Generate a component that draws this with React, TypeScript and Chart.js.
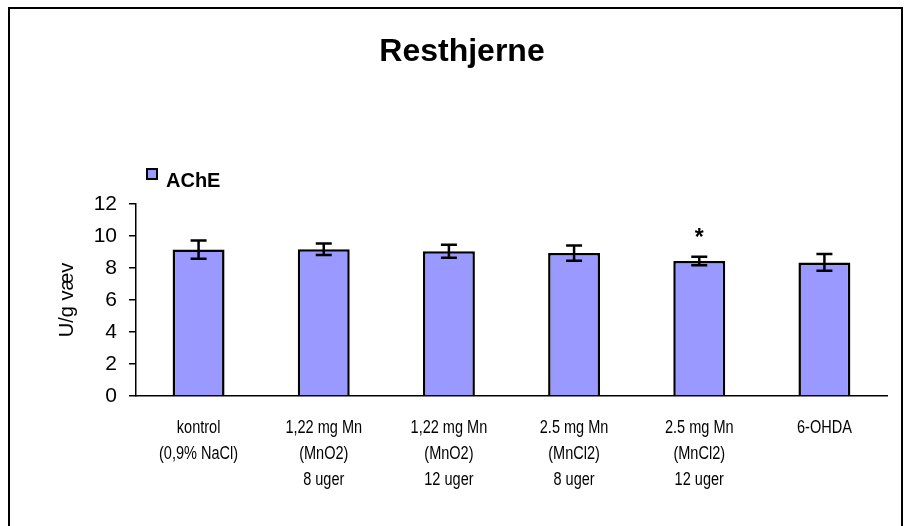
import React, { useEffect, useRef } from "react";
import { Chart, registerables } from "chart.js";

Chart.register(...registerables);

const chartTitle = "Resthjerne";
const seriesName = "AChE";
const yAxisTitle = "U/g væv";
const categories: string[][] = [
  ["kontrol", "(0,9% NaCl)"],
  ["1,22 mg Mn", "(MnO2)", "8 uger"],
  ["1,22 mg Mn", "(MnO2)", "12 uger"],
  ["2.5 mg Mn", "(MnCl2)", "8 uger"],
  ["2.5 mg Mn", "(MnCl2)", "12 uger"],
  ["6-OHDA"],
];
const achValues = [9.15, 9.17, 9.05, 8.93, 8.44, 8.35];
const achErrors = [0.57, 0.36, 0.41, 0.48, 0.27, 0.52];
const significance = ["", "", "", "", "*", ""];
const yTicks = [0, 2, 4, 6, 8, 10, 12];

const BAR_FILL = "#9999FF";

const decorPlugin = {
  id: "decor",
  beforeDraw(chart: any) {
    const ctx = chart.ctx;
    ctx.save();
    ctx.fillStyle = "#ffffff";
    ctx.fillRect(0, 0, chart.width, chart.height);
    ctx.restore();
  },
  afterDatasetsDraw(chart: any) {
    const ctx = chart.ctx;
    const meta = chart.getDatasetMeta(0);
    const y = chart.scales.y;
    ctx.save();
    ctx.strokeStyle = "#000000";
    ctx.lineWidth = 2.5;
    meta.data.forEach((bar: any, i: number) => {
      const x = bar.x;
      const top = y.getPixelForValue(achValues[i] + achErrors[i]);
      const bot = y.getPixelForValue(achValues[i] - achErrors[i]);
      ctx.beginPath();
      ctx.moveTo(x, top);
      ctx.lineTo(x, bot);
      ctx.moveTo(x - 8, top);
      ctx.lineTo(x + 8, top);
      ctx.moveTo(x - 8, bot);
      ctx.lineTo(x + 8, bot);
      ctx.stroke();
      if (significance[i]) {
        ctx.fillStyle = "#000000";
        ctx.font = "bold 23px 'Liberation Sans', Arial, sans-serif";
        ctx.textAlign = "center";
        ctx.textBaseline = "alphabetic";
        ctx.fillText(significance[i], x, top - 12);
      }
    });
    ctx.restore();
  },
  afterDraw(chart: any) {
    const ctx = chart.ctx;
    const xs = chart.scales.x;
    ctx.save();
    // category labels (condensed, like the original narrow face)
    ctx.fillStyle = "#000000";
    ctx.font = "17.5px 'Liberation Sans', Arial, sans-serif";
    ctx.textAlign = "center";
    ctx.textBaseline = "middle";
    const labels = chart.data.labels as string[][];
    labels.forEach((lines, i) => {
      const cx = xs.getPixelForTick(i);
      lines.forEach((line, j) => {
        ctx.save();
        ctx.translate(cx, xs.top + 32 + j * 26);
        ctx.scale(0.83, 1);
        ctx.fillText(line, 0, 0);
        ctx.restore();
      });
    });
    // frame
    ctx.strokeStyle = "#000000";
    ctx.lineWidth = 2;
    ctx.strokeRect(9, 8, 893, 540);
    // title
    ctx.font = "bold 32px 'Liberation Sans', Arial, sans-serif";
    ctx.textAlign = "center";
    ctx.textBaseline = "alphabetic";
    ctx.fillText(chartTitle, 462, 61);
    // legend
    ctx.fillStyle = BAR_FILL;
    ctx.fillRect(147, 169, 10, 10);
    ctx.lineWidth = 2;
    ctx.strokeRect(147, 169, 10, 10);
    ctx.fillStyle = "#000000";
    ctx.font = "bold 20px 'Liberation Sans', Arial, sans-serif";
    ctx.textAlign = "left";
    ctx.fillText(seriesName, 166, 187);
    ctx.restore();
  },
};

export default function App() {
  const ref = useRef<HTMLCanvasElement | null>(null);
  useEffect(() => {
    if (!ref.current) return;
    const chart = new Chart(ref.current, {
      type: "bar",
      data: {
        labels: categories,
        datasets: [
          {
            label: seriesName,
            data: achValues,
            backgroundColor: BAR_FILL,
            borderColor: "#000000",
            borderWidth: 2.5,
            barPercentage: 0.415,
            categoryPercentage: 1,
          },
        ],
      },
      options: {
        animation: false,
        responsive: true,
        maintainAspectRatio: false,
        layout: { padding: { left: 0, top: 204, right: 26, bottom: 0 } },
        plugins: {
          legend: { display: false },
          title: { display: false },
          tooltip: { enabled: false },
        },
        scales: {
          x: {
            grid: { display: true, drawOnChartArea: false, drawTicks: false, tickLength: 0, color: "rgba(0,0,0,0)" },
            border: { display: true, color: "#000000", width: 1.5 },
            ticks: { display: false, autoSkip: false, maxRotation: 0, minRotation: 0 },
            afterFit: (s: any) => {
              s.height = 130;
            },
          },
          y: {
            min: 0,
            max: 12,
            afterBuildTicks: (s: any) => {
              s.ticks = yTicks.map((v) => ({ value: v }));
            },
            grid: { display: true, drawOnChartArea: false, drawTicks: true, tickLength: 7, color: "#000000", lineWidth: 1.5 },
            border: { display: true, color: "#000000", width: 1.5 },
            ticks: {
              color: "#000000",
              padding: 12,
              font: { family: "'Liberation Sans', Arial, sans-serif", size: 21 },
            },
            title: {
              display: true,
              text: yAxisTitle,
              color: "#000000",
              font: { family: "'Liberation Sans', Arial, sans-serif", size: 20 },
              padding: { top: 55, bottom: 0 },
            },
            afterFit: (s: any) => {
              s.width = 136;
            },
          },
        },
      },
      plugins: [decorPlugin],
    });
    return () => chart.destroy();
  }, []);
  return (
    <div style={{ position: "fixed", left: 0, top: 0, width: 913, height: 526 }}>
      <canvas ref={ref} />
    </div>
  );
}
